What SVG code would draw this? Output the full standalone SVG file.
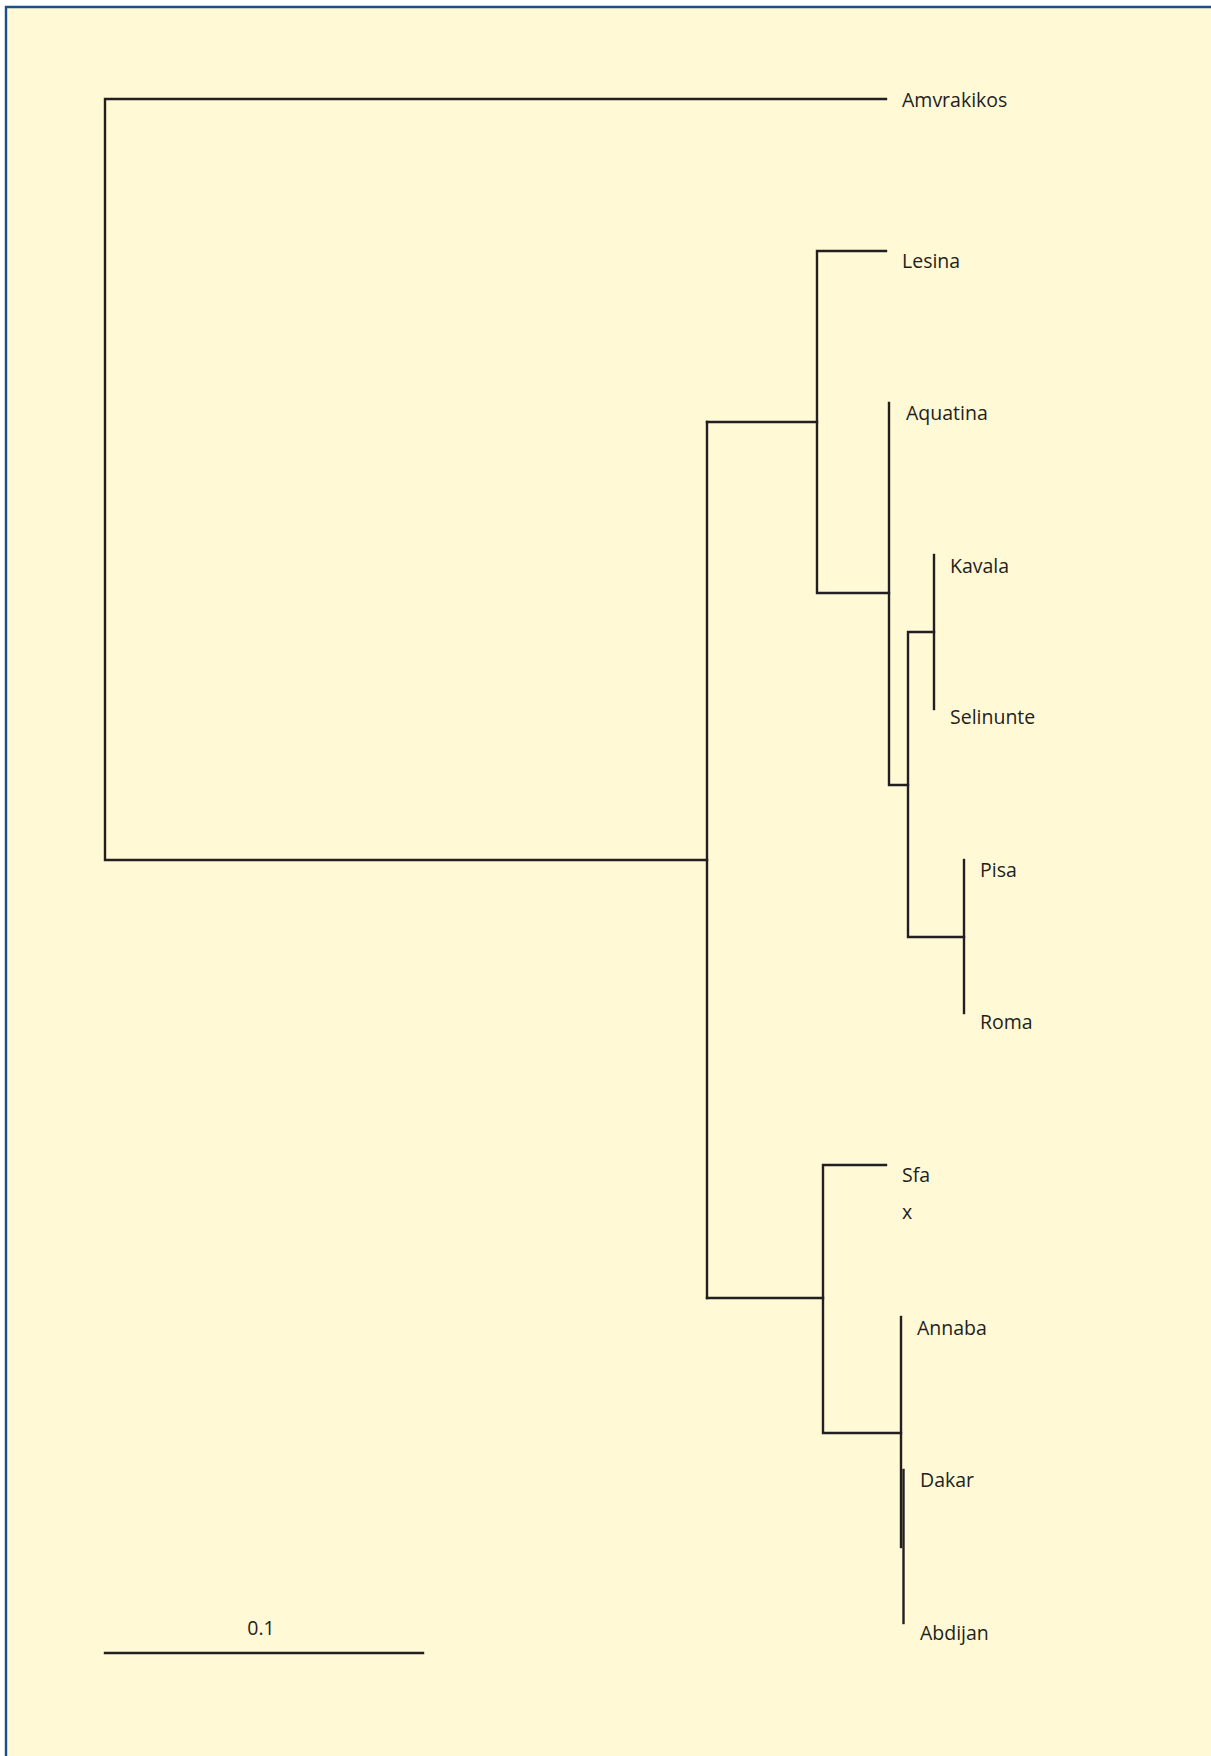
<svg xmlns="http://www.w3.org/2000/svg" width="1211" height="1756" viewBox="0 0 1211 1756">
<style>
.br{fill:none;stroke:#231f20;stroke-width:2.4;stroke-linecap:square}
.lb{font-family:"Open Sans","Liberation Sans",sans-serif;font-size:19.5px;fill:#231f20}
</style>
<rect x="0" y="0" width="1211" height="1756" fill="#ffffff"/>
<rect x="6" y="7" width="1205" height="1749" fill="#fff9d6"/>
<path d="M6 1756V7H1211" fill="none" stroke="#1b4f8c" stroke-width="2.4"/>
<g id="connectors">
<path class="br" d="M886 99H105V860H707"/>
<path class="br" d="M707 422V1298"/>
<path class="br" d="M707 422H817"/>
<path class="br" d="M886 251H817V593H889"/>
<path class="br" d="M889 403V785H908"/>
<path class="br" d="M934 632H908V937H964"/>
<path class="br" d="M934 555V709"/>
<path class="br" d="M964 860V1013"/>
<path class="br" d="M707 1298H823"/>
<path class="br" d="M886 1165H823V1433H901"/>
<path class="br" d="M901 1317V1547"/>
<path class="br" d="M903.5 1470V1623"/>
<path class="br" d="M105 1653H423"/>
</g>
<g id="n-amvrakikos"><text class="lb" x="902" y="107">Amvrakikos</text></g>
<g id="n-lesina"><text class="lb" x="902" y="268">Lesina</text></g>
<g id="n-aquatina"><text class="lb" x="906" y="420">Aquatina</text></g>
<g id="n-kavala"><text class="lb" x="950" y="573">Kavala</text></g>
<g id="n-selinunte"><text class="lb" x="950" y="724">Selinunte</text></g>
<g id="n-pisa"><text class="lb" x="980" y="877">Pisa</text></g>
<g id="n-roma"><text class="lb" x="980" y="1029">Roma</text></g>
<g id="n-sfa"><text class="lb" x="902" y="1182">Sfa</text></g>
<g id="n-x"><text class="lb" x="902" y="1219">x</text></g>
<g id="n-annaba"><text class="lb" x="917" y="1335">Annaba</text></g>
<g id="n-dakar"><text class="lb" x="920" y="1487">Dakar</text></g>
<g id="n-abdijan"><text class="lb" x="920" y="1640" fill="#000">Abdijan</text></g>
<g id="scale"><text class="lb" x="261" y="1635" text-anchor="middle">0.1</text></g>
</svg>
